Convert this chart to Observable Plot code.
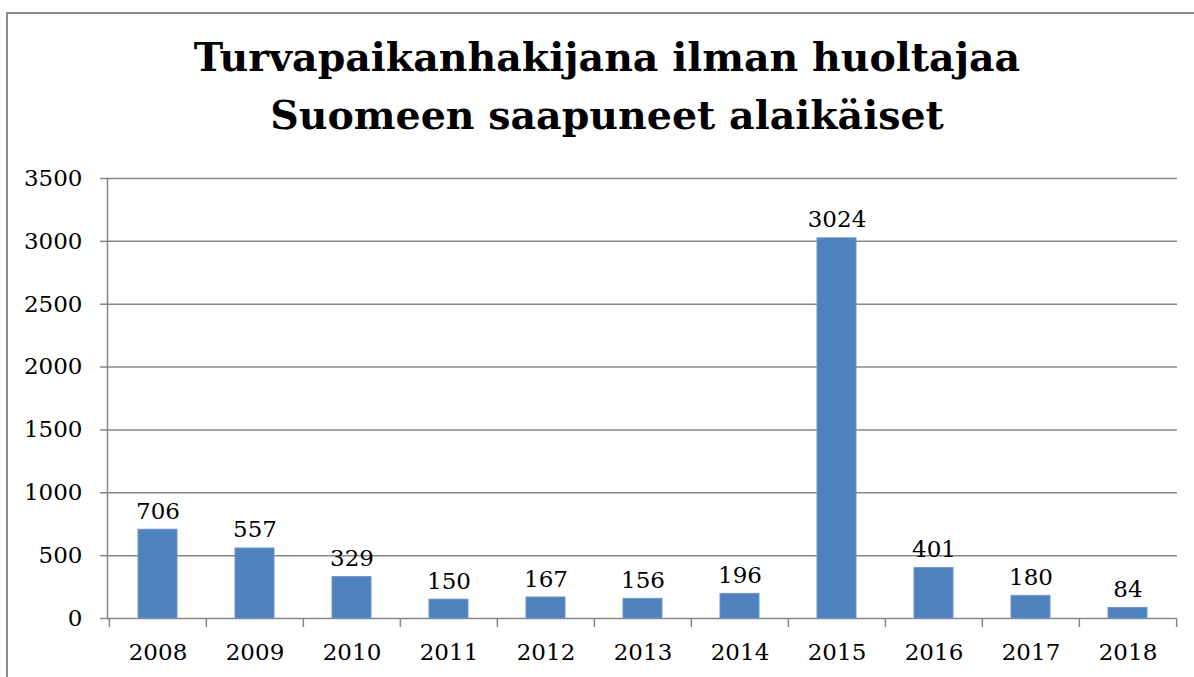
<!DOCTYPE html>
<html>
<head>
<meta charset="utf-8">
<script src="https://cdn.jsdelivr.net/npm/d3@7"></script>
<script src="https://cdn.jsdelivr.net/npm/@observablehq/plot@0.6"></script>
<style>
  html, body { margin: 0; padding: 0; background: #fff; overflow: hidden; width: 1194px; height: 677px; }
  #wrap { position: relative; width: 1194px; height: 677px; }
  #frame { position: absolute; left: 6px; top: 12px; width: 1210px; height: 700px; border: 2px solid #8c8c8c; box-sizing: border-box; }
  #title { position: relative; height: 160px; box-sizing: border-box; padding-top: 28px; padding-left: 20px;
           font-family: "DejaVu Serif", serif; font-weight: bold; font-size: 39.5px; line-height: 58px;
           text-align: center; color: #000; }
  #chart { position: relative; }
</style>
</head>
<body>
<div id="wrap">
  <div id="frame"></div>
  <div id="title">Turvapaikanhakijana ilman huoltajaa<br>Suomeen saapuneet alaikäiset</div>
  <div id="chart"></div>
</div>
<script>
const years = ["2008","2009","2010","2011","2012","2013","2014","2015","2016","2017","2018"];
const counts = [706, 557, 329, 150, 167, 156, 196, 3024, 401, 180, 84];
const yTicks = [0, 500, 1000, 1500, 2000, 2500, 3000, 3500];

const data = years.map((y, i) => ({year: y, value: counts[i]}));

const W = 1194, H = 517, ML = 107, MR = 17, MT = 18, MB = 59;
const step = (W - ML - MR) / years.length;
const gridColor = "#878787";
const font = "DejaVu Serif";

const chart = Plot.plot({
  width: W,
  height: H,
  marginLeft: ML,
  marginRight: MR,
  marginTop: MT,
  marginBottom: MB,
  style: {fontFamily: font, fontSize: "23px", color: "#000", background: "transparent"},
  x: {domain: years, paddingInner: 0.6, paddingOuter: 0.3, axis: null},
  y: {domain: [0, 3500], axis: null},
  marks: [
    Plot.ruleY(yTicks, {stroke: gridColor, strokeWidth: 1.5}),
    Plot.frame({anchor: "left", stroke: gridColor, strokeWidth: 1.5}),
    Plot.axisY({ticks: yTicks, tickFormat: d => String(d), tickSize: 7, tickPadding: 18, label: null, stroke: gridColor, strokeWidth: 1.5, fontSize: 23, fill: "#000"}),
    Plot.ruleX(years, {x: d => d, y1: 0, y2: 0, insetBottom: -9, dx: -step / 2, stroke: gridColor, strokeWidth: 1.5}),
    Plot.ruleX(years.slice(-1), {x: d => d, y1: 0, y2: 0, insetBottom: -9, dx: step / 2, stroke: gridColor, strokeWidth: 1.5}),
    Plot.axisX({tickSize: 0, tickPadding: 25, label: null, fontSize: 23, fill: "#000"}),
    Plot.barY(data, {x: "year", y: "value", fill: "#4F81BD", stroke: "#6C96CB", strokeWidth: 1}),
    Plot.text(data, {x: "year", y: "value", text: d => String(d.value), lineAnchor: "bottom", dy: -11, fontSize: 23, fill: "#000"})
  ]
});
document.getElementById("chart").appendChild(chart);
</script>
</body>
</html>
